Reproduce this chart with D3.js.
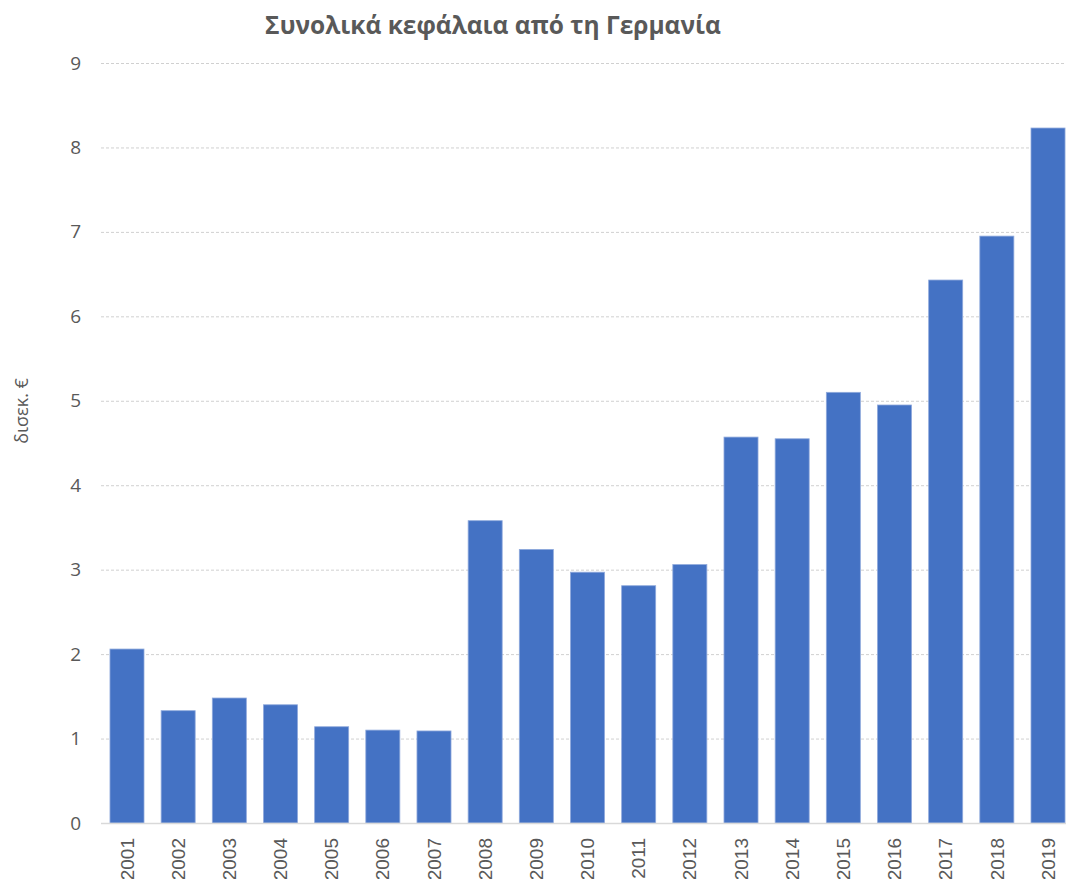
<!DOCTYPE html>
<html>
<head>
<meta charset="utf-8">
<script src="https://cdn.jsdelivr.net/npm/d3@7"></script>
<style>
  html, body { margin: 0; padding: 0; background: #fff; }
  svg { display: block; overflow: hidden; }
</style>
</head>
<body>
<svg id="chart" width="1066" height="879"></svg>
<script>
const years = ["2001","2002","2003","2004","2005","2006","2007","2008","2009","2010","2011","2012","2013","2014","2015","2016","2017","2018","2019"];
const values = [2.06, 1.33, 1.48, 1.40, 1.14, 1.10, 1.09, 3.58, 3.24, 2.97, 2.81, 3.06, 4.57, 4.55, 5.10, 4.95, 6.43, 6.95, 8.23];
const yTicks = [0,1,2,3,4,5,6,7,8,9];
const titleText = "Συνολικά κεφάλαια από τη Γερμανία";
const yLabel = "δισεκ. €";

const svg = d3.select("#chart");
const textColor = "#595959";

const x = d3.scaleBand().domain(years).range([101.4, 1073.6]).paddingInner(0.335).paddingOuter(0.1675);
const y = d3.scaleLinear().domain([0, 9]).range([823, 63]);

// gridlines
svg.append("g").selectAll("line").data(yTicks.filter(d => d > 0)).join("line")
  .attr("x1", 101).attr("x2", 1075)
  .attr("y1", d => y(d) + 0.5).attr("y2", d => y(d) + 0.5)
  .attr("stroke", "#d0d0d0").attr("stroke-width", 1).attr("stroke-dasharray", "3,2");

// bars
svg.append("g").selectAll("rect").data(values).join("rect")
  .attr("x", (d, i) => x(years[i]))
  .attr("y", d => y(d))
  .attr("width", x.bandwidth())
  .attr("height", d => y(0) - y(d))
  .attr("fill", "#4472C4")
  .attr("stroke", "#8fa9dc").attr("stroke-width", 0.8);

// baseline
svg.append("line").attr("x1", 101).attr("x2", 1075)
  .attr("y1", y(0) + 0.5).attr("y2", y(0) + 0.5)
  .attr("stroke", "#d9d9d9").attr("stroke-width", 1.5);

// y axis tick labels
const yAxis = d3.axisLeft(y).tickValues(yTicks).tickSize(0).tickPadding(0).tickFormat(d3.format("d"));
const gy = svg.append("g").attr("transform", "translate(81,0)").call(yAxis);
gy.select(".domain").remove();
gy.selectAll("text").attr("fill", textColor).style("font-family", "'Open Sans', sans-serif").style("font-size", "19px");

// x axis labels
const xAxis = d3.axisBottom(x).tickSize(0).tickPadding(0);
const gx = svg.append("g").attr("transform", "translate(0,838)").call(xAxis);
gx.select(".domain").remove();
gx.selectAll("text")
  .attr("fill", textColor)
  .style("font-family", "'Liberation Sans', Arial, sans-serif").style("font-size", "19px")
  .attr("transform", "rotate(-90)")
  .attr("text-anchor", "end")
  .attr("x", 0).attr("y", 0).attr("dy", "0.35em");

// title
svg.append("text").attr("x", 493).attr("y", 34).attr("text-anchor", "middle")
  .attr("fill", textColor)
  .style("font-family", "'Open Sans', sans-serif").style("font-size", "24.5px").style("font-weight", "bold")
  .text(titleText);

// y label
svg.append("text").attr("transform", "translate(28,411) rotate(-90)").attr("text-anchor", "middle")
  .attr("fill", textColor)
  .style("font-family", "'Open Sans', sans-serif").style("font-size", "18px")
  .text(yLabel);
</script>
</body>
</html>
